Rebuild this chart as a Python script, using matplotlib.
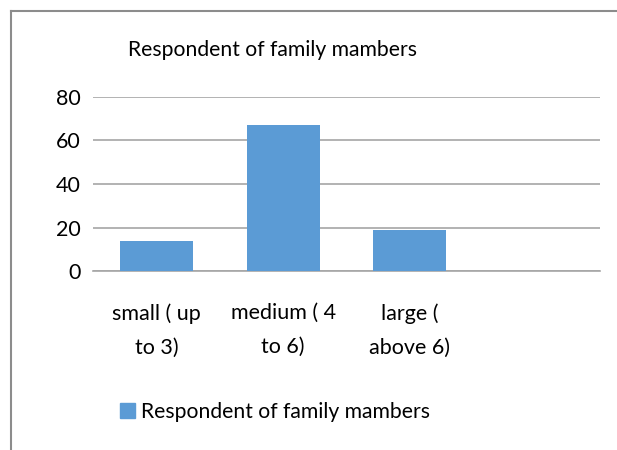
import numpy as np
import matplotlib.pyplot as plt
from matplotlib.lines import Line2D
from matplotlib.patches import Patch

plt.rcParams['font.family'] = ['Lato', 'DejaVu Sans']

categories = ['small ( up\nto 3)', 'medium ( 4\nto 6)', 'large (\nabove 6)', '']
values = [14, 67, 19, np.nan]
series_name = 'Respondent of family mambers'
yticks = [0, 20, 40, 60, 80]

W, H = 617, 450
fig = plt.figure(figsize=(W / 100, H / 100), dpi=100)
ax = fig.add_axes([93 / W, 1 - 271 / H, (600 - 93) / W, (271 - 97) / H])

bar_color = '#5B9BD5'
x = np.arange(len(categories))
ax.bar(x, values, width=0.576, color=bar_color, zorder=3)

ax.set_xlim(-0.5, len(categories) - 0.5)
ax.set_ylim(0, 80)
ax.set_yticks(yticks)
ax.set_xticks(x)
ax.set_xticklabels(categories, fontsize=15.5, linespacing=1.9)
ax.tick_params(axis='y', labelsize=15.5, length=0, pad=9)
ax.tick_params(axis='x', length=0, pad=23)
ax.yaxis.grid(True, color='#A6A6A6', linewidth=1.2, zorder=0)
for s in ['top', 'right', 'left']:
    ax.spines[s].set_visible(False)
ax.spines['bottom'].set_color('#A6A6A6')
ax.spines['bottom'].set_linewidth(1.2)

fig.text(0.5 * (130 + 415) / W, 1 - 50 / H, series_name, ha='center', va='center',
         fontsize=15.2)

fig.legend(handles=[Patch(color=bar_color, label=series_name)],
           loc='center', bbox_to_anchor=(275 / W, 1 - 412 / H), frameon=False,
           fontsize=15.2, handlelength=0.7, handleheight=0.7, handletextpad=0.3)

# chart area border (left and top)
fig.add_artist(Line2D([11 / W, 11 / W], [0, 1 - 11 / H], color='#8C8C8C', linewidth=1.5))
fig.add_artist(Line2D([11 / W, 1], [1 - 11 / H, 1 - 11 / H], color='#8C8C8C', linewidth=1.5))

fig.savefig('out.png', dpi=100)
